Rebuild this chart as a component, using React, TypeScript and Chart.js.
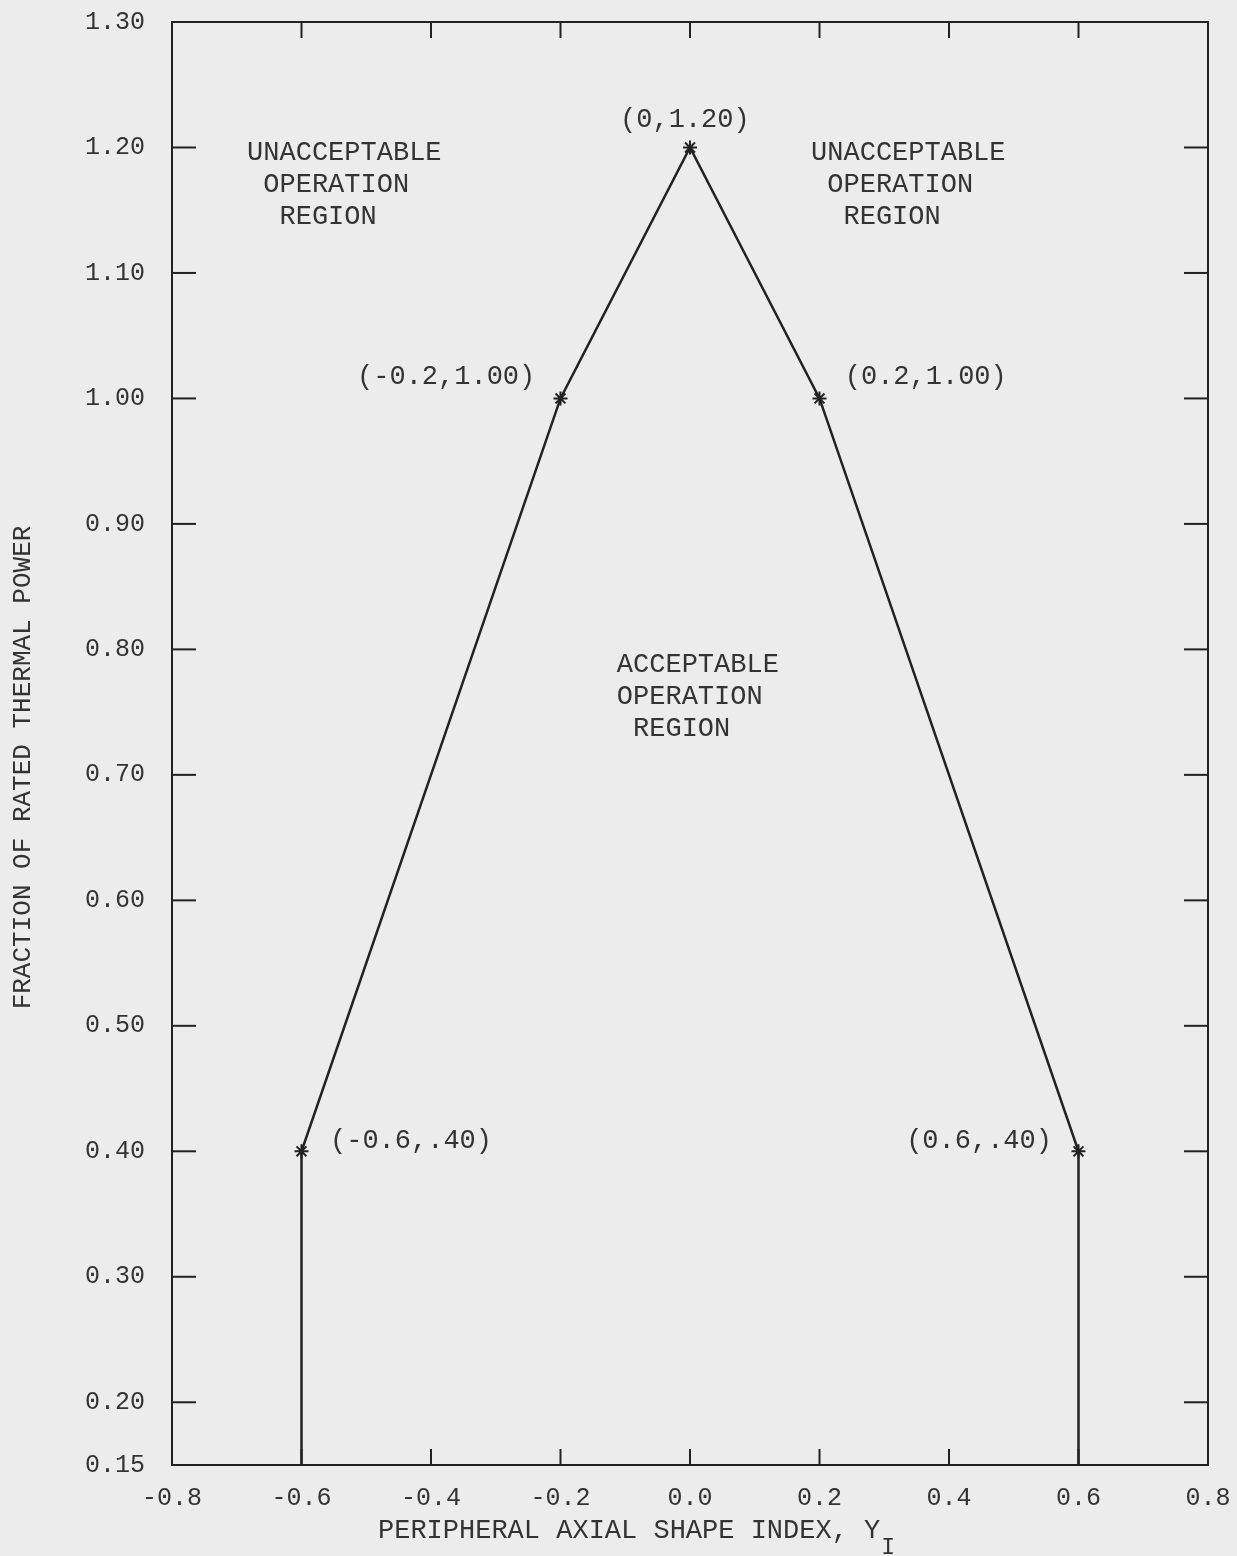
import React, { useEffect, useRef } from "react";
import { Chart, registerables } from "chart.js";

Chart.register(...registerables);

// ---- data ----
const boundaryX = [-0.6, -0.6, -0.2, 0.0, 0.2, 0.6, 0.6];
const boundaryY = [0.15, 0.4, 1.0, 1.2, 1.0, 0.4, 0.15];
const vertexMarked = [false, true, true, true, true, true, false];

const xTickValues = [-0.8, -0.6, -0.4, -0.2, 0.0, 0.2, 0.4, 0.6, 0.8];
const xTickLabels = ["-0.8", "-0.6", "-0.4", "-0.2", "0.0", "0.2", "0.4", "0.6", "0.8"];
const yTickValues = [0.15, 0.2, 0.3, 0.4, 0.5, 0.6, 0.7, 0.8, 0.9, 1.0, 1.1, 1.2, 1.3];
const yTickLabels = ["0.15", "0.20", "0.30", "0.40", "0.50", "0.60", "0.70", "0.80", "0.90", "1.00", "1.10", "1.20", "1.30"];

const xTitle = "PERIPHERAL AXIAL SHAPE INDEX, Y";
const xTitleSub = "I";
const yTitle = "FRACTION OF RATED THERMAL POWER";

const annotationTexts = [
  ["UNACCEPTABLE", " OPERATION", "  REGION"],
  ["UNACCEPTABLE", " OPERATION", "  REGION"],
  ["ACCEPTABLE", "OPERATION", " REGION"],
  ["(0,1.20)"],
  ["(-0.2,1.00)"],
  ["(0.2,1.00)"],
  ["(-0.6,.40)"],
  ["(0.6,.40)"],
];
const annotationX = [-0.684, 0.187, -0.113, -0.108, -0.239, 0.239, -0.556, 0.559];
const annotationY = [1.196, 1.196, 0.788, 1.222, 1.017, 1.017, 0.408, 0.408];
const annotationAlign: CanvasTextAlign[] = ["left", "left", "left", "left", "right", "left", "left", "right"];

// ---- styles ----
const FONT = '"Liberation Mono", "DejaVu Sans Mono", monospace';
const BG = "#ececec";
const INK = "#222222";
const TEXT = "#333333";
const W = 1237;
const H = 1556;

const overlayPlugin = {
  id: "overlay",
  beforeDraw(chart: any) {
    const ctx = chart.ctx;
    ctx.save();
    ctx.fillStyle = BG;
    ctx.fillRect(0, 0, chart.width, chart.height);
    ctx.restore();
  },
  afterDraw(chart: any) {
    const { ctx, chartArea, scales } = chart;
    const { left, right, top, bottom } = chartArea;
    const xs = scales.x;
    const ys = scales.y;
    ctx.save();
    ctx.strokeStyle = INK;
    ctx.lineWidth = 2;
    ctx.strokeRect(left, top, right - left, bottom - top);
    const seg = (a: number, b: number, c: number, d: number) => {
      ctx.beginPath();
      ctx.moveTo(a, b);
      ctx.lineTo(c, d);
      ctx.stroke();
    };
    xTickValues.slice(1, -1).forEach((v) => {
      const px = xs.getPixelForValue(v);
      seg(px, top, px, top + 16);
      seg(px, bottom, px, bottom - 16);
    });
    yTickValues.slice(1, -1).forEach((v) => {
      const py = ys.getPixelForValue(v);
      seg(left, py, left + 24, py);
      seg(right, py, right - 24, py);
    });

    ctx.fillStyle = TEXT;
    ctx.font = `27px ${FONT}`;
    ctx.textBaseline = "middle";
    annotationTexts.forEach((lines, i) => {
      ctx.textAlign = annotationAlign[i];
      const px = xs.getPixelForValue(annotationX[i]);
      const py = ys.getPixelForValue(annotationY[i]);
      lines.forEach((t, j) => ctx.fillText(t, px, py + j * 32));
    });

    // x title with subscript
    ctx.textAlign = "left";
    ctx.font = `27px ${FONT}`;
    const tx = left + 206;
    const ty = bottom + 66;
    ctx.fillText(xTitle, tx, ty);
    const w = ctx.measureText(xTitle).width;
    ctx.font = `23px ${FONT}`;
    ctx.fillText(xTitleSub, tx + w + 1, ty + 17);

    // y title
    ctx.save();
    ctx.font = `26px ${FONT}`;
    ctx.translate(left - 149, (top + bottom) / 2 + 24);
    ctx.rotate(-Math.PI / 2);
    ctx.textAlign = "center";
    ctx.fillText(yTitle, 0, 0);
    ctx.restore();

    ctx.restore();
  },
};

export default function App() {
  const ref = useRef<HTMLCanvasElement | null>(null);
  useEffect(() => {
    if (!ref.current) return;
    const points = boundaryX.map((x, i) => ({ x, y: boundaryY[i] }));
    const chart = new Chart(ref.current, {
      type: "scatter",
      data: {
        datasets: [
          {
            data: points,
            showLine: true,
            borderColor: INK,
            borderWidth: 2.5,
            backgroundColor: INK,
            pointStyle: "star",
            pointRadius: vertexMarked.map((m) => (m ? 7 : 0)),
            pointBorderWidth: 2,
            pointBorderColor: INK,
            tension: 0,
            clip: false,
          } as any,
        ],
      },
      options: {
        responsive: false,
        animation: false,
        devicePixelRatio: 1,
        layout: { padding: { top: 22, right: 29, left: 0, bottom: 0 } },
        plugins: { legend: { display: false }, tooltip: { enabled: false } },
        events: [],
        scales: {
          x: {
            type: "linear",
            min: -0.8,
            max: 0.8,
            grid: { display: false, drawTicks: false },
            border: { display: false },
            afterBuildTicks: (s: any) => {
              s.ticks = xTickValues.map((v) => ({ value: v }));
            },
            afterFit: (s: any) => {
              s.height = 91;
              s.paddingLeft = 0;
              s.paddingRight = 0;
            },
            ticks: {
              autoSkip: false,
              maxRotation: 0,
              padding: 18,
              color: TEXT,
              font: { family: FONT, size: 25 },
              callback: (_v: any, i: number) => xTickLabels[i],
            },
          },
          y: {
            type: "linear",
            min: 0.15,
            max: 1.3,
            grid: { display: false, drawTicks: false },
            border: { display: false },
            afterBuildTicks: (s: any) => {
              s.ticks = yTickValues.map((v) => ({ value: v }));
            },
            afterFit: (s: any) => {
              s.width = 172;
              s.paddingTop = 0;
              s.paddingBottom = 0;
            },
            ticks: {
              autoSkip: false,
              padding: 27,
              color: TEXT,
              font: { family: FONT, size: 25 },
              callback: (_v: any, i: number) => yTickLabels[i],
            },
          },
        },
      },
      plugins: [overlayPlugin],
    });
    return () => chart.destroy();
  }, []);
  return (
    <div style={{ position: "fixed", left: 0, top: 0, width: W, height: H, background: BG }}>
      <canvas ref={ref} width={W} height={H} style={{ width: W, height: H, display: "block" }} />
    </div>
  );
}
